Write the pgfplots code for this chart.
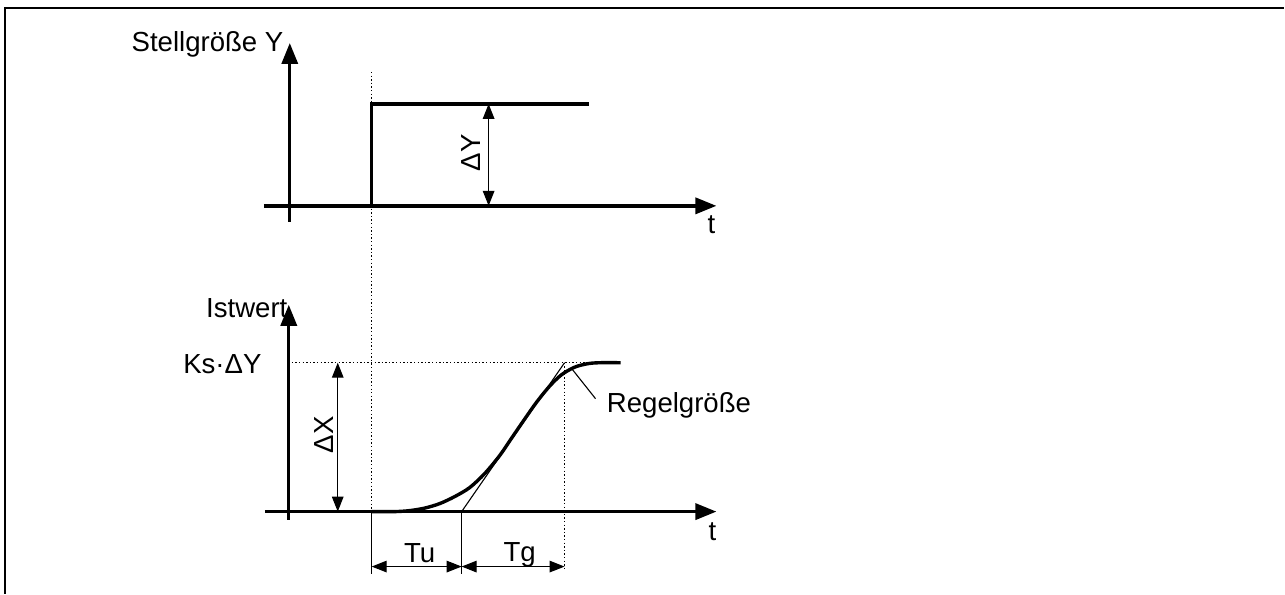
\documentclass[border=0pt]{standalone}
\usepackage{fontspec}
\setmainfont{Liberation Sans}
\usepackage{pgfplots}
\pgfplotsset{compat=1.18}
\usetikzlibrary{arrows.meta}

\begin{document}
\begin{tikzpicture}[
  axarrow/.style={line width=1.7pt,-{Triangle[length=10.5pt,width=8pt]}},
  dimarrow/.style={line width=0.55pt,{Triangle[length=7.5pt,width=5.8pt]}-{Triangle[length=7.5pt,width=5.8pt]}},
  dots/.style={line width=0.65pt,dash pattern=on 0.7pt off 1.1pt},
  thin/.style={line width=0.55pt},
  lbl/.style={font=\fontsize{13.8}{16}\selectfont,inner sep=0pt},
]
\begin{axis}[
  hide axis,
  scale only axis,
  width=642.5pt, height=297pt,
  xmin=0, xmax=1285, ymin=0, ymax=594,
  y dir=reverse,
  clip=false,
]
% page extent
\path (rel axis cs:0,0) rectangle (rel axis cs:1,1);

% frame
\draw[line width=1pt] (5,594) -- (5,8) -- (1285,8);

% ---------- upper diagram: Stellgröße ----------
\draw[axarrow] (290,222) -- (290,43);
\draw[axarrow] (264,206) -- (717,206);
\node[lbl,anchor=base east] at (284,52) {Stellgröße Y};
\node[lbl,anchor=base] at (712,234) {t};

% step of the manipulated variable
\addplot[line width=1.7pt,mark=none,line join=miter] coordinates {
  (372,206) (372,104) (589,104)
};
\draw[dimarrow] (489,206) -- (489,104);
\node[lbl,rotate=90,anchor=center] at (471,153) {ΔY};

% time marker of the step
\draw[dots] (372,72) -- (372,512);

% ---------- lower diagram: Istwert ----------
\draw[dots] (292,363) -- (600,363);
\draw[dots] (565,363) -- (565,570);

\draw[axarrow] (289,520) -- (289,305);
\draw[axarrow] (265,512) -- (717,512);
\node[lbl,anchor=base east] at (288,318) {Istwert};
\node[lbl,anchor=base west] at (183,374) {Ks·ΔY};
\node[lbl,anchor=base] at (713,541) {t};

% step response (Regelgröße)
\addplot[line width=1.7pt,mark=none,smooth] coordinates {
  (372,512) (395,512) (410,511) (425,508.5) (440,504) (455,497)
  (470,488) (485,474) (500,456) (513,437) (525,419.5) (537,402.5)
  (550,386.5) (562,375) (575,367.5) (588,364) (600,363) (621,363)
};

% inflection tangent
\addplot[thin,mark=none] coordinates {(462,512) (565,363)};

\draw[dimarrow] (338,512) -- (338,363);
\node[lbl,rotate=90,anchor=center] at (324,435) {ΔX};

% Tu / Tg
\draw[thin] (372,512) -- (372,574);
\draw[thin] (462,512) -- (462,574);
\draw[dimarrow] (372,567) -- (462,567);
\draw[dimarrow] (462,567) -- (565,567);
\node[lbl,anchor=base] at (420,563) {Tu};
\node[lbl,anchor=base] at (520,562) {Tg};

% label of the controlled variable
\draw[thin] (573,370) -- (596,399);
\node[lbl,anchor=base west] at (607,413) {Regelgröße};
\end{axis}
\end{tikzpicture}
\end{document}
